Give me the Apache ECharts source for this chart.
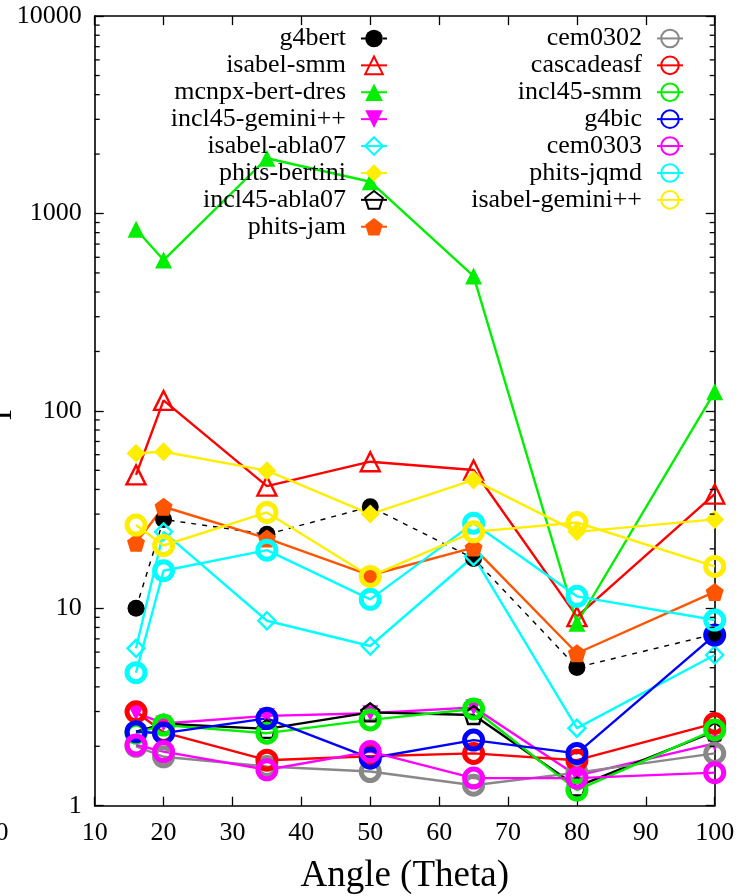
<!DOCTYPE html>
<html><head><meta charset="utf-8">
<script src="https://cdn.jsdelivr.net/npm/echarts@6/dist/echarts.min.js"></script>
<style>html,body{margin:0;padding:0;background:#fff}#c{width:756px;height:896px}</style>
</head><body><div id="c"></div>
<script>
// ---- data ----
const angles = [16, 20, 35, 50, 65, 80, 100];
const xTickMin = 10, xTickMax = 100, xTickStep = 10;
const yTickMin = 1, yTickMax = 10000;

const g4bert        = [10.0, 28.2, 23.7, 32.7, 17.9, 5.02, 7.4];
const isabelSmm     = [47.4, 113, 41.6, 55.3, 50.2, 9.07, 37.9];
const mcnpxBertDres = [832, 581, 1905, 1449, 482, 8.40, 125];
const incl45Gemini  = [2.95, 2.61, 2.85, 2.94, 3.15, 1.42, 2.07];
const isabelAbla07  = [6.27, 24.4, 8.65, 6.44, 18.3, 2.47, 5.80];
const phitsBertini  = [61, 62.1, 49.8, 30.0, 44.7, 24.4, 28.2];
const incl45Abla07  = [2.37, 2.6, 2.45, 2.97, 2.88, 1.25, 2.38];
const phitsJam      = [21.5, 32.7, 22.6, 14.7, 20.3, 5.92, 12.1];
const cem0302       = [2.0, 1.77, 1.58, 1.49, 1.27, 1.47, 1.84];
const cascadeasf    = [2.99, 2.35, 1.70, 1.78, 1.84, 1.70, 2.61];
const incl45Smm     = [2.33, 2.56, 2.33, 2.72, 3.09, 1.20, 2.42];
const g4bic         = [2.37, 2.33, 2.77, 1.74, 2.15, 1.84, 7.32];
const cem0303       = [2.03, 1.88, 1.52, 1.88, 1.38, 1.38, 1.47];
const phitsJqmd     = [4.72, 15.5, 19.7, 11.1, 27.0, 11.5, 8.72];
const isabelGemini  = [26.4, 20.8, 30.6, 14.5, 24.4, 27.2, 16.3];

const leftNames  = ['g4bert','isabel-smm','mcnpx-bert-dres','incl45-gemini++','isabel-abla07','phits-bertini','incl45-abla07','phits-jam'];
const rightNames = ['cem0302','cascadeasf','incl45-smm','g4bic','cem0303','phits-jqmd','isabel-gemini++'];

// minor tick values of the log axis (2..9 per decade)
const minorTickValues = [];
for (let d = yTickMin; d < yTickMax; d *= 10) for (let k = 2; k <= 9; k++) minorTickValues.push(k * d);

// ---- styling ----
const FONT = 'Liberation Serif';
const PENTAGON = 'path://M0,-1L0.951,-0.309L0.588,0.809L-0.588,0.809L-0.951,-0.309Z';
const CLEAR = 'rgba(0,0,0,0)';

function mk(name, vals, color, o) {
  o = o || {};
  const open = !!o.open;
  return {
    name, type: 'line',
    data: angles.map((a, i) => [a, vals[i]]),
    symbol: o.symbol || 'circle',
    symbolSize: o.size || 18,
    symbolRotate: o.rotate || 0,
    showSymbol: true,
    lineStyle: { color, width: o.lw || 2.4, type: o.dash || 'solid' },
    itemStyle: open ? { color: CLEAR, borderColor: color, borderWidth: o.bw || 2.2 }
                    : { color, borderWidth: 0 },
    emphasis: { disabled: true },
    z: 3
  };
}

const series = [
  mk('g4bert', g4bert, '#000000', { symbol: 'circle', size: 17, lw: 1.4, dash: [5, 6] }),
  mk('isabel-smm', isabelSmm, '#ff0000', { symbol: 'triangle', size: 19, open: true, bw: 2.4 }),
  mk('mcnpx-bert-dres', mcnpxBertDres, '#00ee00', { symbol: 'triangle', size: 17 }),
  mk('incl45-gemini++', incl45Gemini, '#ff00ff', { symbol: 'triangle', size: 16, rotate: 180 }),
  mk('isabel-abla07', isabelAbla07, '#00ffff', { symbol: 'diamond', size: 17, open: true, bw: 2.4 }),
  mk('phits-bertini', phitsBertini, '#ffee00', { symbol: 'diamond', size: 19 }),
  mk('incl45-abla07', incl45Abla07, '#000000', { symbol: PENTAGON, size: 18, open: true, bw: 2.4 }),
  mk('phits-jam', phitsJam, '#ff5500', { symbol: PENTAGON, size: 18 }),
  mk('cem0302', cem0302, '#888888', { size: 18, open: true, bw: 5 }),
  mk('cascadeasf', cascadeasf, '#ff0000', { size: 18, open: true, bw: 5 }),
  mk('incl45-smm', incl45Smm, '#00ee00', { size: 18, open: true, bw: 5 }),
  mk('g4bic', g4bic, '#0000ff', { size: 18, open: true, bw: 5 }),
  mk('cem0303', cem0303, '#ff00ff', { size: 18, open: true, bw: 5 }),
  mk('phits-jqmd', phitsJqmd, '#00ffff', { size: 18, open: true, bw: 5 }),
  mk('isabel-gemini++', isabelGemini, '#ffee00', { size: 18, open: true, bw: 5 })
];

// minor ticks on left & right y borders (drawn through the axis scale)
series.push({
  type: 'custom', name: 'minorTicks', silent: true, z: 5,
  data: minorTickValues.map(v => [xTickMin, v]),
  encode: { x: 0, y: 1 },
  clip: false,
  renderItem(params, api) {
    const v = api.value(1);
    const pl = api.coord([xTickMin, v]);
    const pr = api.coord([xTickMax, v]);
    const st = { stroke: '#000', lineWidth: 1.3 };
    return { type: 'group', children: [
      { type: 'line', shape: { x1: pl[0], y1: pl[1], x2: pl[0] + 5, y2: pl[1] }, style: st },
      { type: 'line', shape: { x1: pr[0] - 5, y1: pr[1], x2: pr[0], y2: pr[1] }, style: st }
    ]};
  }
});

const axisLine = { show: true, lineStyle: { color: '#000', width: 1.6 } };
const tickStyle = { show: true, inside: true, length: 9, lineStyle: { color: '#000', width: 1.3 } };

const legendBase = {
  orient: 'vertical', align: 'right', padding: 0, itemGap: 0,
  itemWidth: 26, itemHeight: 22, selectedMode: false,
  textStyle: { fontFamily: FONT, fontSize: 26, lineHeight: 26.9, color: '#000', padding: [0, 10, 0, 0] }
};

const option = {
  animation: false,
  backgroundColor: '#fff',
  grid: { left: 94.7, right: 41.3, top: 16.1, bottom: 90.3, containLabel: false, outerBoundsMode: 'none' },
  legend: [
    Object.assign({}, legendBase, { data: leftNames, right: 368, top: 25 }),
    Object.assign({}, legendBase, { data: rightNames, right: 72, top: 25 })
  ],
  xAxis: [
    { type: 'value', min: xTickMin, max: xTickMax, interval: xTickStep, position: 'bottom',
      axisLine, axisTick: tickStyle, splitLine: { show: false },
      axisLabel: { fontFamily: FONT, fontSize: 26, color: '#000', margin: 14 },
      name: 'Angle (Theta)', nameLocation: 'middle', nameGap: 52, nameMoveOverlap: false,
      nameTextStyle: { fontFamily: FONT, fontSize: 37, color: '#000' } },
    { type: 'value', min: xTickMin, max: xTickMax, interval: xTickStep, position: 'top',
      axisLine, axisTick: tickStyle, splitLine: { show: false }, axisLabel: { show: false } }
  ],
  yAxis: [
    { type: 'log', logBase: 10, min: yTickMin, max: yTickMax, position: 'left',
      axisLine, axisTick: tickStyle, splitLine: { show: false },
      axisLabel: { fontFamily: FONT, fontSize: 26, color: '#000', margin: 13, formatter: v => String(v) },
      name: 'Γ', nameLocation: 'middle', nameRotate: 90, nameGap: 76, nameMoveOverlap: false,
      nameTextStyle: { fontFamily: FONT, fontSize: 32, color: '#000' } },
    { type: 'log', logBase: 10, min: yTickMin, max: yTickMax, position: 'right',
      axisLine, axisTick: tickStyle, splitLine: { show: false }, axisLabel: { show: false } }
  ],
  graphic: [
    { type: 'text', x: 8.5, y: 833, silent: true,
      style: { text: '0', fill: '#000', font: '26px "Liberation Serif"', align: 'right', verticalAlign: 'middle' } }
  ],
  series
};

const chart = echarts.init(document.getElementById('c'), null, { renderer: 'canvas' });
chart.setOption(option);
</script>
</body></html>
